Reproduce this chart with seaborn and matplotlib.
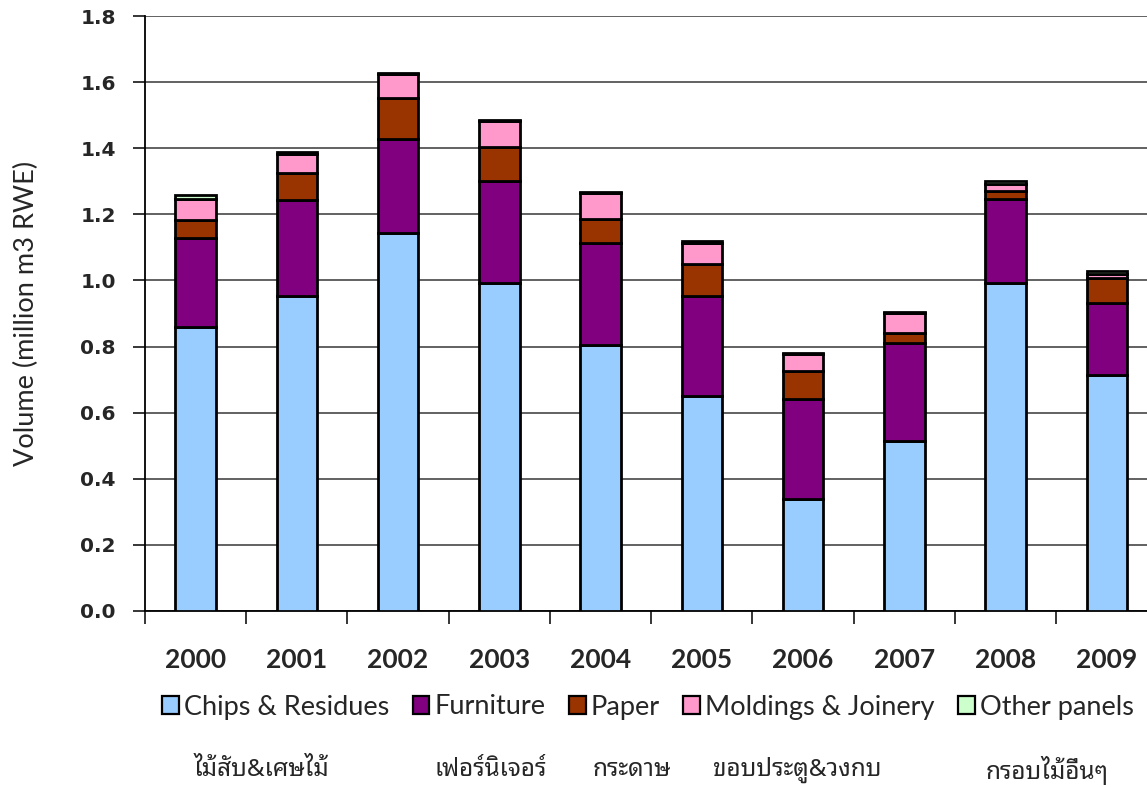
import matplotlib
matplotlib.use("Agg")
import matplotlib.pyplot as plt
import seaborn as sns
import pandas as pd
import numpy as np
from matplotlib.patches import Patch

years = ["2000", "2001", "2002", "2003", "2004", "2005", "2006", "2007", "2008", "2009"]
chips = [0.860, 0.953, 1.145, 0.991, 0.805, 0.651, 0.339, 0.515, 0.993, 0.714]
furniture = [0.269, 0.291, 0.282, 0.310, 0.308, 0.302, 0.303, 0.295, 0.253, 0.219]
paper = [0.054, 0.080, 0.126, 0.104, 0.072, 0.097, 0.085, 0.030, 0.026, 0.073]
moldings = [0.064, 0.059, 0.071, 0.076, 0.081, 0.064, 0.051, 0.061, 0.020, 0.013]
other = [0.013, 0.006, 0.003, 0.003, 0.002, 0.004, 0.003, 0.004, 0.008, 0.010]
series_names = ["Chips & Residues", "Furniture", "Paper", "Moldings & Joinery", "Other panels"]
colors = ["#99ccff", "#800080", "#993300", "#ff99cc", "#ccffcc"]
thai_labels = ["ไม้สับ&เศษไม้", "เฟอร์นิเจอร์", "กระดาษ", "ขอบประตู&วงกบ", "กรอบไม้อื่นๆ"]

sns.set_style("white")
plt.rcParams['font.family'] = ['Lato', 'DejaVu Sans']

fig = plt.figure(figsize=(11.47, 7.87), dpi=100)
ax = fig.add_axes([145/1147, 1 - 611/787, 1 - 145/1147 + 0.01, (611 - 16)/787])

values = [chips, furniture, paper, moldings, other]
bottom = np.zeros(len(years))
for name, vals, col in zip(series_names, values, colors):
    df = pd.DataFrame({"year": years, "v": vals})
    sns.barplot(data=df, x="year", y="v", ax=ax, color=col, bottom=bottom,
                width=0.4, edgecolor="black", linewidth=2, saturation=1,
                zorder=3)
    bottom = bottom + np.array(vals)

ax.set_ylim(0, 1.8)
ax.set_xlim(-0.5, 9.5 + 0.01)
ticks = np.arange(0, 1.81, 0.2)
ax.set_yticks(ticks)
ax.set_yticklabels([f"{t:.1f}" for t in ticks], fontsize=14.5, fontweight="bold",
                   family=["DejaVu Sans"])
ax.yaxis.grid(True, color="#555555", linewidth=1.3, zorder=0)
ax.set_axisbelow(True)
for s in ["top", "right"]:
    ax.spines[s].set_visible(False)
for s in ["left", "bottom"]:
    ax.spines[s].set_linewidth(1.3)
    ax.spines[s].set_color("black")
ax.tick_params(axis="y", which="major", direction="out", length=9, width=1.3, left=True, pad=12)
ax.set_xticks(np.arange(-0.5, 10, 1.0), minor=True)
ax.set_xticks(np.arange(10))
ax.set_xticklabels(years, fontsize=19, fontweight="bold")
ax.tick_params(axis="x", which="major", length=0, pad=27)
ax.tick_params(axis="x", which="minor", direction="out", length=9, width=1.3, bottom=True)
ax.set_xlabel("")
ax.set_ylabel("Volume (million m3 RWE)", fontsize=19.5, labelpad=30)

handles = [Patch(facecolor=c, edgecolor="black", linewidth=1.6) for c in colors]
fig.legend(handles, series_names, loc="center", bbox_to_anchor=(648/1147, 1 - 707/787),
           ncol=5, frameon=False, fontsize=19.5, handlelength=0.62, handleheight=0.62,
           handletextpad=0.2, columnspacing=0.85)

thai_x = [261, 491, 632, 797, 1047]
for tx, lab in zip(thai_x, thai_labels):
    fig.text(tx/1147, 1 - 770/787, lab, ha="center", va="center", fontsize=17.5,
             family=["Noto Sans Thai Looped", "DejaVu Sans"])

fig.savefig("out.png", dpi=100)
